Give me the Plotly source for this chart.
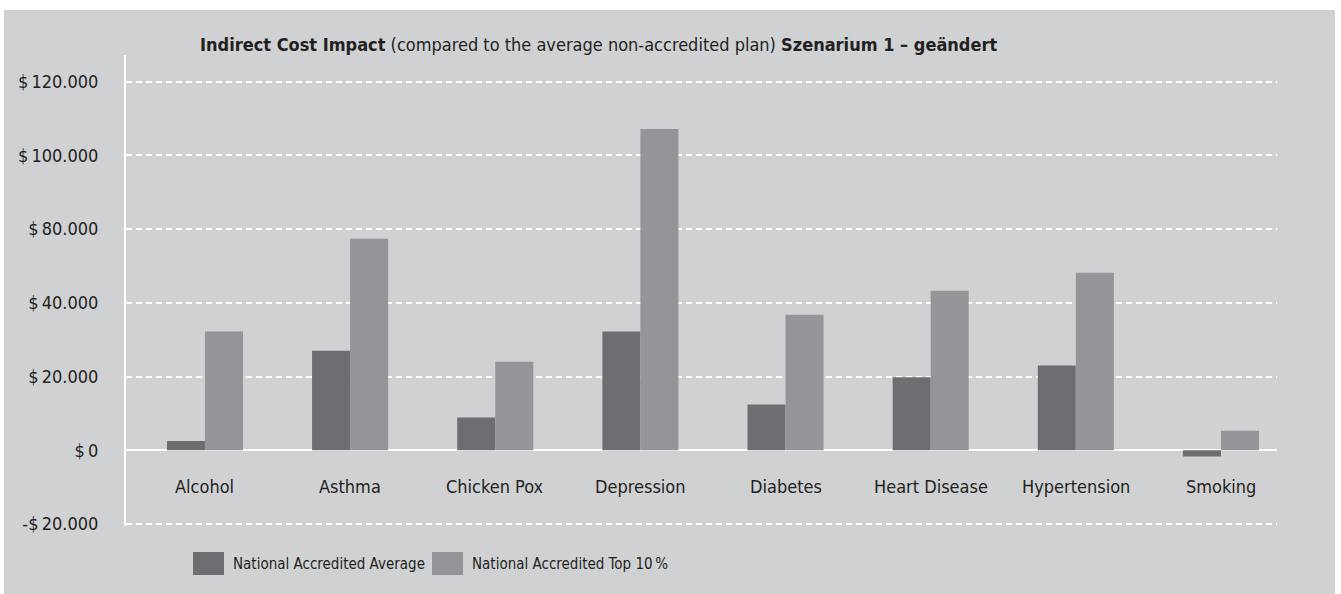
import plotly.graph_objects as go

categories = ["Alcohol", "Asthma", "Chicken Pox", "Depression", "Diabetes",
              "Heart Disease", "Hypertension", "Smoking"]
avg_values = [2500, 27000, 8900, 32200, 12400, 19800, 23000, -1700]
top_values = [32200, 57400, 24000, 87200, 36800, 43300, 48200, 5300]
series_names = ["National Accredited Average", "National Accredited Top 10\u2009%"]
tick_vals = [-20000, 0, 20000, 40000, 60000, 80000, 100000]
tick_text = ["-$\u200920.000", "$\u20090", "$\u200920.000", "$\u200940.000",
             "$\u200980.000", "$\u2009100.000", "$\u2009120.000"]

DARK = "#6d6e72"
LIGHT = "#949599"
BG = "#d0d1d3"
TXT = "#231f20"
FONT = "Liberation Sans Narrow, DejaVu Sans Condensed, Roboto, sans-serif"

fig = go.Figure()
fig.add_trace(go.Bar(x=list(range(len(categories))), y=avg_values, name=series_names[0],
                     marker=dict(color=DARK, line=dict(width=0)), showlegend=False))
fig.add_trace(go.Bar(x=list(range(len(categories))), y=top_values, name=series_names[1],
                     marker=dict(color=LIGHT, line=dict(width=0)), showlegend=False))

W, H = 1341, 594
L, R, T, B = 126, 64, 55, 68
pw, ph = W - L - R, H - T - B

def px(x):
    return (x - L) / pw

def py(y):
    return (H - B - y) / ph

shapes = [
    dict(type="rect", xref="paper", yref="paper", x0=px(4), x1=px(1335), y0=py(594), y1=py(10),
         fillcolor=BG, line=dict(width=0), layer="below"),
    dict(type="rect", xref="paper", yref="paper", x0=px(193), x1=px(224), y0=py(575), y1=py(552),
         fillcolor=DARK, line=dict(width=0)),
    dict(type="rect", xref="paper", yref="paper", x0=px(432), x1=px(463), y0=py(575), y1=py(552),
         fillcolor=LIGHT, line=dict(width=0)),
]

annotations = [
    dict(xref="paper", yref="paper", x=px(198), y=py(44), xanchor="left", yanchor="middle",
         showarrow=False,
         text="<b>Indirect Cost Impact</b> (compared to the average non-accredited plan) <b>Szenarium 1 \u2013 geändert</b>",
         font=dict(size=18, color=TXT, family=FONT)),
    dict(xref="paper", yref="paper", x=px(231), y=py(564), xanchor="left", yanchor="middle",
         showarrow=False, text=series_names[0], font=dict(size=15, color=TXT, family=FONT)),
    dict(xref="paper", yref="paper", x=px(470), y=py(564), xanchor="left", yanchor="middle",
         showarrow=False, text=series_names[1], font=dict(size=15, color=TXT, family=FONT)),
]
for i, c in enumerate(categories):
    annotations.append(dict(xref="x", yref="y", x=i, y=0, yshift=-36, xanchor="center",
                            yanchor="middle", showarrow=False, text=c,
                            font=dict(size=18, color=TXT, family=FONT)))

fig.update_layout(
    width=W, height=H,
    margin=dict(l=L, r=R, t=T, b=B, pad=0),
    paper_bgcolor="white", plot_bgcolor=BG,
    barmode="group", bargap=0.476, bargroupgap=0,
    shapes=shapes, annotations=annotations,
    font=dict(family=FONT, color=TXT, size=18),
    xaxis=dict(range=[-0.544, 7.386], showticklabels=False, showgrid=False, zeroline=False,
               showline=False, ticks=""),
    yaxis=dict(range=[-20550, 107250], tickvals=tick_vals, ticktext=tick_text,
               showgrid=True, gridcolor="white", gridwidth=2, griddash="6px,4px",
               zeroline=True, zerolinecolor="white", zerolinewidth=2,
               showline=True, linecolor="white", linewidth=2,
               ticks="outside", ticklen=22, tickcolor="rgba(0,0,0,0)",
               tickfont=dict(size=18, color=TXT, family=FONT)),
)

fig.write_html("out.html", config={"displayModeBar": False},
               post_script="document.body.style.margin='0';")
